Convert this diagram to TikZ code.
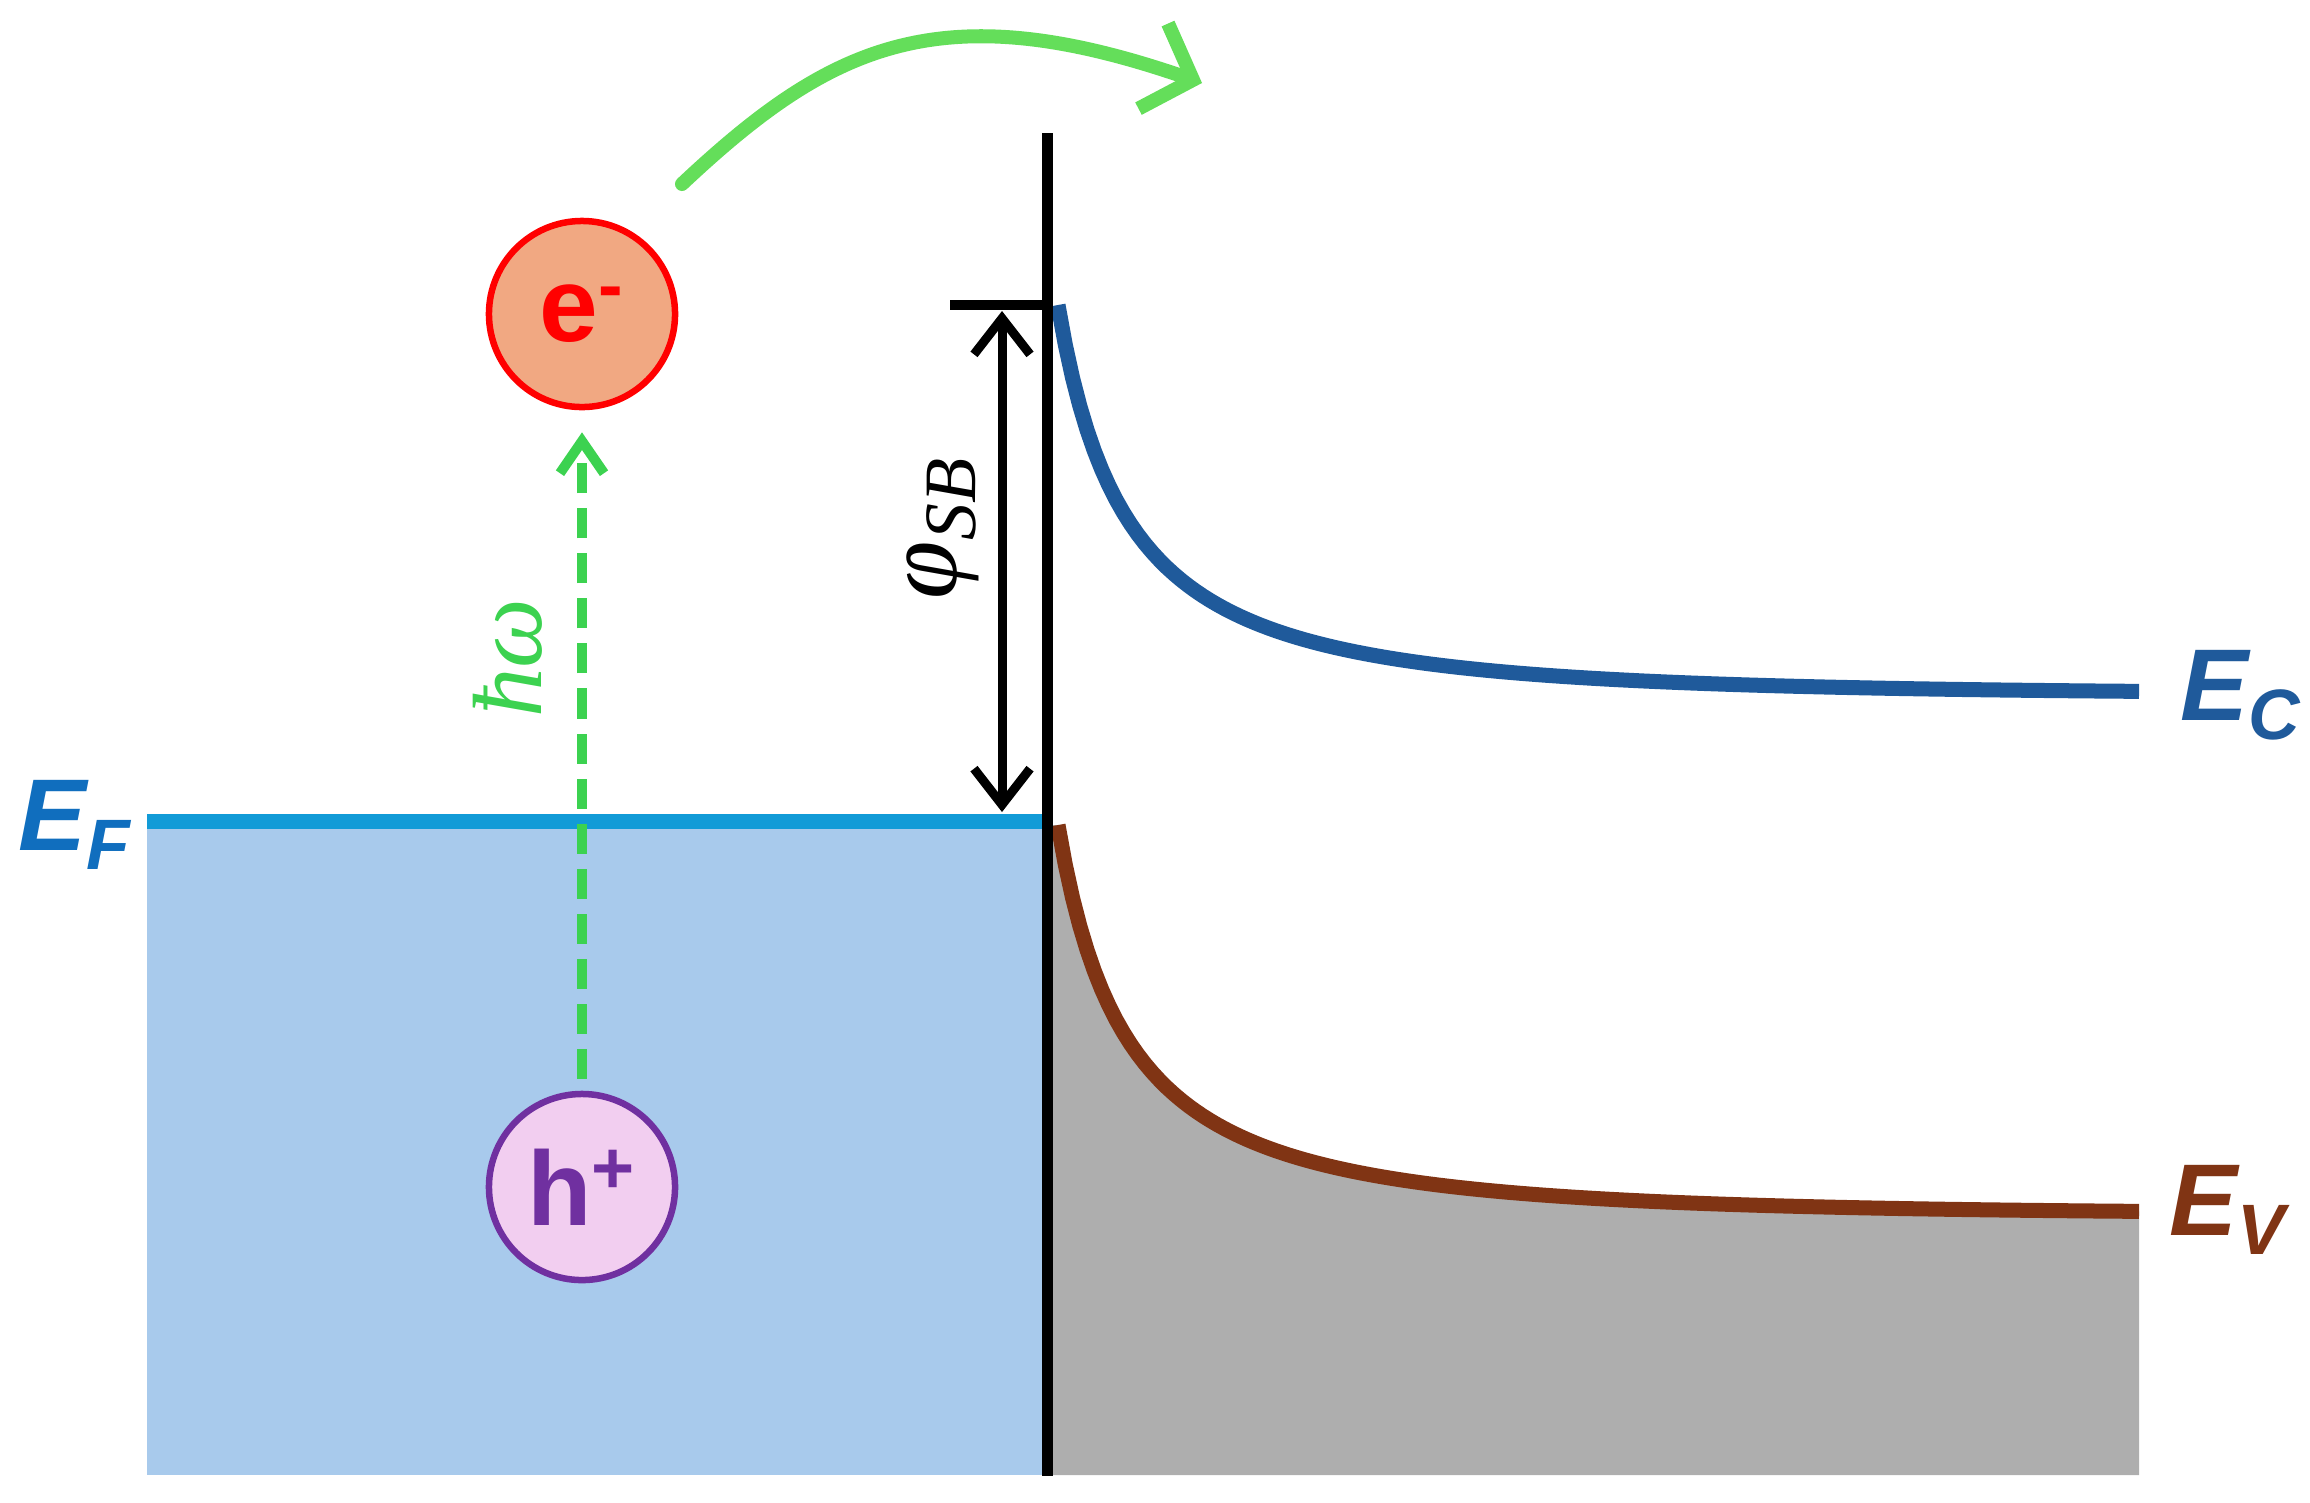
\documentclass[tikz,border=0pt]{standalone}
\usepackage{fontspec}
\setmainfont{Liberation Sans}
\newfontfamily\symserif{Liberation Serif}
\usetikzlibrary{arrows.meta,positioning}
\definecolor{MetalBlue}{RGB}{168,202,236}
\definecolor{FermiBlue}{RGB}{18,155,215}
\definecolor{FermiText}{RGB}{16,110,190}
\definecolor{CondBlue}{RGB}{31,90,155}
\definecolor{ValBrown}{RGB}{128,52,20}
\definecolor{SemiGray}{RGB}{174,174,174}
\definecolor{ElecFill}{RGB}{241,168,130}
\definecolor{HoleFill}{RGB}{242,206,240}
\definecolor{HolePurple}{RGB}{112,48,160}
\definecolor{PhotonGreen}{RGB}{60,210,80}
\definecolor{HopGreen}{RGB}{100,222,90}

\begin{document}
\begin{tikzpicture}[x=0.01cm, y=-0.01cm,
    carrier/.style={circle, minimum size=1.86cm, inner sep=0pt, line width=0.065cm,
        font=\fontsize{30}{34}\selectfont\bfseries},
    level/.style={anchor=base west, inner sep=0pt,
        font=\fontsize{29}{34}\selectfont\bfseries\itshape},
    band/.style={line width=0.15cm},
    barrier/.style={domain=0:1081, samples=150, variable=\d}]
    \useasboundingbox (0,0) rectangle (2310,1502);
    % metal
    \fill[MetalBlue] (147,821) rectangle (1047,1475);
    \draw[FermiBlue, line width=0.15cm] (147,821) -- (1047,821);
    % semiconductor
    \fill[SemiGray] plot[barrier] ({1058+\d}, {1214-389*(75/(75+\d))*exp(-\d/480)})
        -- (2139,1475) -- (1047,1475) -- (1047,825) -- cycle;
    \draw[CondBlue, band] plot[barrier] ({1058+\d}, {694-389*(75/(75+\d))*exp(-\d/480)});
    \draw[ValBrown, band] plot[barrier] ({1058+\d}, {1214-389*(75/(75+\d))*exp(-\d/480)});
    % interface and barrier height
    \draw[line width=0.11cm] (1047,133) -- (1047,1476);
    \draw[line width=0.1cm] (950,305) -- (1047,305);
    \coordinate (sbTop) at (1002,311);
    \coordinate (sbBot) at (1002,812);
    \draw[line width=0.09cm, {Straight Barb[length=0.36cm,width=0.56cm]}-{Straight Barb[length=0.36cm,width=0.56cm]}]
        (sbTop) -- (sbBot);
    \node[rotate=90, font=\fontsize{30}{34}\selectfont\symserif\itshape] (sb) at (943,528) {φ\textsubscript{SB}};
    % carriers
    \node[carrier, draw=red, fill=ElecFill, text=red] (elec) at (582,314) {e\textsuperscript{-}};
    \node[carrier, draw=HolePurple, fill=HoleFill, text=HolePurple] (hole) at (582,1187) {h\textsuperscript{+}};
    \draw[PhotonGreen, line width=0.1cm, dash pattern=on 0.3cm off 0.15cm,
        -{Straight Barb[length=0.32cm,width=0.44cm]}, shorten >=0.22cm, shorten <=0.12cm] (hole) -- (elec);
    \node[rotate=90, text=PhotonGreen, font=\fontsize{28}{32}\selectfont\symserif\itshape] (hw) at (508,658) {ħω};
    % hop over the barrier
    \coordinate (hopStart) at (682,184);
    \coordinate (hopEnd) at (1202,83);
    \draw[HopGreen, line width=0.14cm, line cap=round, -{Straight Barb[length=0.42cm,width=0.9cm]}]
        (hopStart) .. controls (830,45) and (940,-8) .. (hopEnd);
    % band labels
    \node[level, text=FermiText] (ef) at (18,850) {E\textsubscript{F}};
    \node[level, text=CondBlue] (ec) at (2180,720) {E\textsubscript{C}};
    \node[level, text=ValBrown] (ev) at (2169,1235) {E\textsubscript{V}};
\end{tikzpicture}
\end{document}
